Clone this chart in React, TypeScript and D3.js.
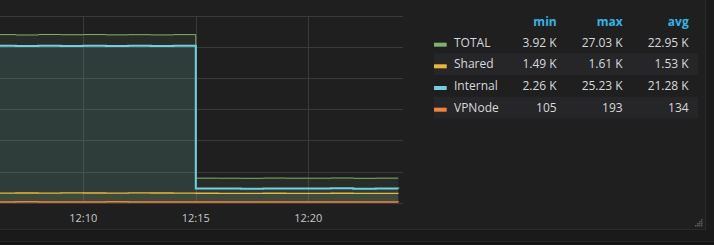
import React from "react";
import * as d3 from "d3";

// ---- data ----
const times = [
  "12:05", "12:06", "12:07", "12:08", "12:09", "12:10", "12:11", "12:12", "12:13", "12:14",
  "12:15", "12:16", "12:17", "12:18", "12:19", "12:20", "12:21", "12:22", "12:23", "12:24",
];
const totalValues = [
  26980, 27010, 26950, 27030, 26990, 27020, 26970, 27000, 26960, 27010,
  3950, 3930, 3920, 3960, 3940, 3930, 3970, 3920, 3950, 3940,
];
const sharedValues = [
  1550, 1540, 1560, 1550, 1570, 1560, 1550, 1580, 1560, 1540,
  1520, 1510, 1500, 1520, 1510, 1500, 1520, 1490, 1510, 1500,
];
const internalValues = [
  25200, 25220, 25170, 25230, 25190, 25210, 25180, 25200, 25160, 25220,
  2290, 2270, 2260, 2300, 2280, 2270, 2310, 2260, 2290, 2280,
];
const vpnodeValues = [
  130, 128, 135, 127, 131, 129, 133, 126, 130, 128,
  125, 123, 128, 122, 126, 124, 127, 121, 125, 123,
];
const seriesNames = ["TOTAL", "Shared", "Internal", "VPNode"];
const seriesColors = ["#7eb26d", "#eab839", "#6ed0e0", "#ef843c"];
const seriesWidths = [1, 1.3, 2, 1.5];
const legendHeaders = ["min", "max", "avg"];
const legendMin = ["3.92 K", "1.49 K", "2.26 K", "105"];
const legendMax = ["27.03 K", "1.61 K", "25.23 K", "193"];
const legendAvg = ["22.95 K", "1.53 K", "21.28 K", "134"];
const yTicks = [0, 5000, 10000, 15000, 20000, 25000, 30000];
const xTickLabels = ["12:10", "12:15", "12:20"];

const parseT = d3.timeParse("%H:%M");

export default function App() {
  const W = 714, H = 245;
  const plotRight = 403;
  const x = d3
    .scaleTime()
    .domain([parseT("12:05")!, parseT("12:25")!])
    .range([83.3 - 112.5, 308.3 + 112.5]);
  const y = d3.scaleLinear().domain([0, 30000]).range([202.7, 16]);

  const allSeries = [totalValues, sharedValues, internalValues, vpnodeValues];
  const pts = (vals: number[]) => times.map((t, i) => ({ t: parseT(t)!, v: vals[i] }));

  const line = d3
    .line<{ t: Date; v: number }>()
    .x((d) => x(d.t))
    .y((d) => y(d.v))
    .curve(d3.curveStepAfter);
  const area = d3
    .area<{ t: Date; v: number }>()
    .x((d) => x(d.t))
    .y0(y(0))
    .y1((d) => y(d.v))
    .curve(d3.curveStepAfter);

  const drawOrder = [0, 1, 2, 3];
  const rowTop = [31.7, 53.3, 75, 96.7];
  const rowH = 21.7;
  const colRight = [556.7, 622.7, 688.7];
  const legendCols = [legendMin, legendMax, legendAvg];

  return (
    <div style={{ position: "fixed", left: 0, top: 0 }}>
      <svg width={W} height={H} style={{ display: "block" }} fontFamily="'Open Sans', sans-serif">
        <defs>
          <clipPath id="plotclip">
            <rect x={0} y={0} width={plotRight} height={203} />
          </clipPath>
        </defs>
        {/* page / panel backgrounds */}
        <rect x={0} y={0} width={W} height={H} fill="#141415" />
        <rect x={0} y={230} width={W} height={12} fill="#1a1a1b" />
        <line x1={0} x2={W} y1={241.5} y2={241.5} stroke="#232324" />
        <rect x={705.5} y={0} width={9} height={230} fill="#1b1b1c" />
        <rect x={-2} y={-2} width={707.5} height={231.5} fill="#1f1f20" stroke="#2a2a2b" strokeWidth={1} />

        {/* grid */}
        {yTicks.map((t) => (
          <line key={"h" + t} x1={0} x2={plotRight} y1={Math.round(y(t)) + 0.5} y2={Math.round(y(t)) + 0.5} stroke="#3a3a3b" strokeWidth={1} />
        ))}
        {xTickLabels.map((l) => (
          <line key={"v" + l} x1={Math.round(x(parseT(l)!)) + 0.5} x2={Math.round(x(parseT(l)!)) + 0.5} y1={16} y2={203} stroke="#3a3a3b" strokeWidth={1} />
        ))}

        {/* series fills */}
        <g clipPath="url(#plotclip)">
          {drawOrder.map((i) => (
            <path key={"a" + i} d={area(pts(allSeries[i])) || ""} fill={seriesColors[i]} fillOpacity={0.1} />
          ))}
          {drawOrder.map((i) => (
            <path key={"l" + i} d={line(pts(allSeries[i])) || ""} fill="none" stroke={seriesColors[i]} strokeWidth={seriesWidths[i]} />
          ))}
        </g>

        {/* x axis labels */}
        {xTickLabels.map((l) => (
          <text key={"t" + l} x={x(parseT(l)!)} y={221.7} textAnchor="middle" fontSize={11} fill="#c8c8c8">
            {l}
          </text>
        ))}

        {/* legend */}
        {rowTop.map((top, i) =>
          i % 2 === 1 ? <rect key={"s" + i} x={434} y={top} width={264.3} height={rowH} fill="#262628" /> : null
        )}
        {legendHeaders.map((h, j) => (
          <text key={"hd" + h} x={colRight[j]} y={26.3} textAnchor="end" fontSize={12} fontWeight="bold" fill="#33b5e5">
            {h}
          </text>
        ))}
        {seriesNames.map((n, i) => (
          <g key={"lg" + n}>
            <rect x={434} y={rowTop[i] + 11} width={12.7} height={4} fill={seriesColors[i]} />
            <text x={454} y={rowTop[i] + 15} fontSize={12} fill="#d8d9da">
              {n}
            </text>
            {legendCols.map((col, j) => (
              <text key={j} x={colRight[j]} y={rowTop[i] + 15} textAnchor="end" fontSize={12} fill="#d8d9da">
                {col[i]}
              </text>
            ))}
          </g>
        ))}

        {/* resize handle */}
        {[
          [701, 219], [699, 221], [701, 221], [697, 223], [699, 223], [701, 223],
          [695, 225], [697, 225], [699, 225], [701, 225],
        ].map(([px, py], k) => (
          <rect key={"rh" + k} x={px} y={py} width={1.5} height={1.5} fill="#5a5a5c" />
        ))}
      </svg>
    </div>
  );
}
